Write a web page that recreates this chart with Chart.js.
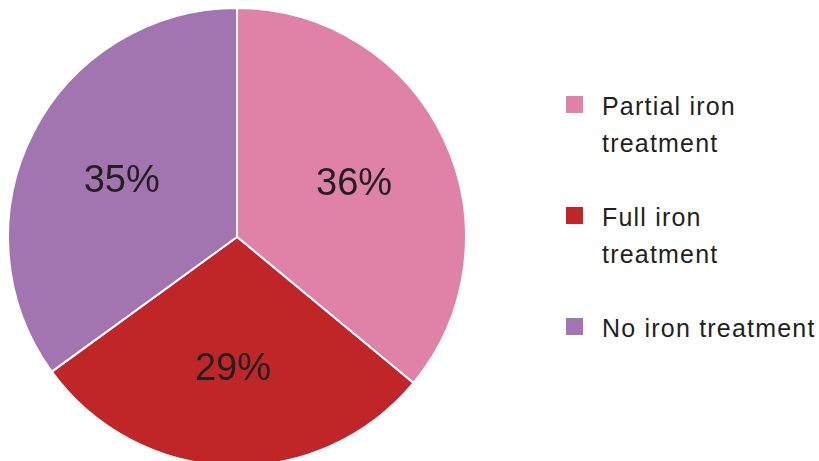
<!DOCTYPE html>
<html>
<head>
<meta charset="utf-8">
<script src="https://cdn.jsdelivr.net/npm/chart.js@4"></script>
<style>
  html, body { margin: 0; padding: 0; background: #fff; overflow: hidden; }
  #wrap { position: relative; width: 819px; height: 461px; }
  #chartBox { position: absolute; left: 0; top: 0; width: 474px; height: 474px; }
  #legend { position: absolute; left: 566px; top: 88px; font-family: "Liberation Sans", Arial, sans-serif;
            font-size: 25px; line-height: 37px; color: #231f20; letter-spacing: 1.2px; }
  .item { position: relative; padding-left: 36px; margin-bottom: 37px; }
  .swatch { position: absolute; left: 0; top: 8px; width: 17px; height: 17px; }
</style>
</head>
<body>
<div id="wrap">
  <div id="chartBox"><canvas id="pieChart"></canvas></div>
  <div id="legend"></div>
</div>
<script>
// Treatment groups and their shares (%)
const categories = ['Partial iron treatment', 'Full iron treatment', 'No iron treatment'];
const legendLines = [['Partial iron', 'treatment'], ['Full iron', 'treatment'], ['No iron treatment']];
const shares = [36, 29, 35];
const sliceColors = ['#e082a7', '#c02627', '#a275b0'];

// draws the percentage inside each slice
const sliceLabels = {
    id: 'sliceLabels',
    afterDatasetsDraw(chart) {
        const c = chart.ctx;
        const meta = chart.getDatasetMeta(0);
        c.save();
        c.font = '38px "Liberation Sans", Arial, sans-serif';
        c.fillStyle = '#231f20';
        c.textAlign = 'center';
        c.textBaseline = 'middle';
        meta.data.forEach((arc, i) => {
            const mid = (arc.startAngle + arc.endAngle) / 2;
            const r = arc.outerRadius * 0.565;
            c.fillText(shares[i] + '%', arc.x + Math.cos(mid) * r, arc.y + Math.sin(mid) * r + 3);
        });
        c.restore();
    }
};

const ctx = document.getElementById('pieChart').getContext('2d');
new Chart(ctx, {
    type: 'pie',
    data: {
        labels: categories,
        datasets: [{
            data: shares,
            backgroundColor: sliceColors,
            borderColor: '#ffffff',
            borderWidth: 2
        }]
    },
    options: {
        responsive: true,
        maintainAspectRatio: false,
        animation: false,
        layout: { padding: 7 },
        plugins: {
            legend: { display: false },
            tooltip: { enabled: false }
        }
    },
    plugins: [sliceLabels]
});

// html legend, built from the same arrays
const legend = document.getElementById('legend');
categories.forEach((name, i) => {
    const item = document.createElement('div');
    item.className = 'item';
    item.innerHTML = '<span class="swatch" style="background:' + sliceColors[i] + '"></span>' +
        legendLines[i].join('<br>');
    legend.appendChild(item);
});
</script>
</body>
</html>
